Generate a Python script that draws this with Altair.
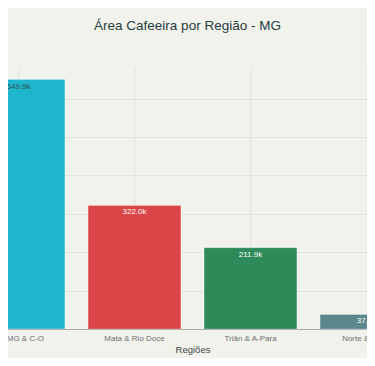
import altair as alt
import pandas as pd

regioes = ["Sul MG & C-O", "Mata & Rio Doce", "Triân & A-Para", "Norte & Vales"]
area_k = [649.9, 322.0, 211.9, 37.8]
rotulos = ["649.9k", "322.0k", "211.9k", "37.8k"]
cores = ["#1FB6CD", "#DC4547", "#2E8B59", "#5B888D"]
cores_texto = ["#2F4F4F", "#FFFFFF", "#FFFFFF", "#FFFFFF"]

df = pd.DataFrame({"Região": regioes, "Área": area_k, "Rótulo": rotulos,
                   "cor": cores, "corTexto": cores_texto})

FONT = "Liberation Sans"

x = alt.X("Região:N", sort=regioes, title="Regiões",
          scale=alt.Scale(paddingInner=0.2, paddingOuter=0.1),
          axis=alt.Axis(labelAngle=0, labelFontSize=8, labelColor="#707070",
                        titleFontSize=9.5, titleColor="#444444", titleFontWeight="normal",
                        ticks=False, domainColor="#AAAAAA", gridColor="#E3E3DD",
                        grid=True, labelPadding=5, titlePadding=2))
y = alt.Y("Área:Q", title=None,
          scale=alt.Scale(domain=[0, 680], nice=False),
          axis=alt.Axis(values=[0, 100, 200, 300, 400, 500, 600], labels=False,
                        ticks=False, domain=False, gridColor="#E3E3DD", title=None))

bars = alt.Chart(df).mark_bar(stroke="#FFFFFF", strokeOpacity=0.25, strokeWidth=1).encode(
    x=x, y=y, color=alt.Color("cor:N", scale=None))

text = alt.Chart(df).mark_text(baseline="top", dy=3, fontSize=8, font=FONT).encode(
    x=alt.X("Região:N", sort=regioes), y="Área:Q", text="Rótulo:N",
    color=alt.Color("corTexto:N", scale=None))

chart = (bars + text).properties(
    width=464, height=261,
    title=alt.TitleParams("Área Cafeeira por Região - MG", fontSize=13.5,
                          fontWeight="normal", color="#1E3D40", font=FONT,
                          anchor="middle", offset=36, dx=-5),
    background="#F2F2ED",
    padding={"left": -47.5, "top": 60, "right": -57.5, "bottom": 29},
    autosize=alt.AutoSizeParams(type="none"),
).configure_view(stroke=None).configure_axis(labelFont=FONT, titleFont=FONT)

chart.save("out.html", embed_options={"renderer": "svg", "actions": False})
